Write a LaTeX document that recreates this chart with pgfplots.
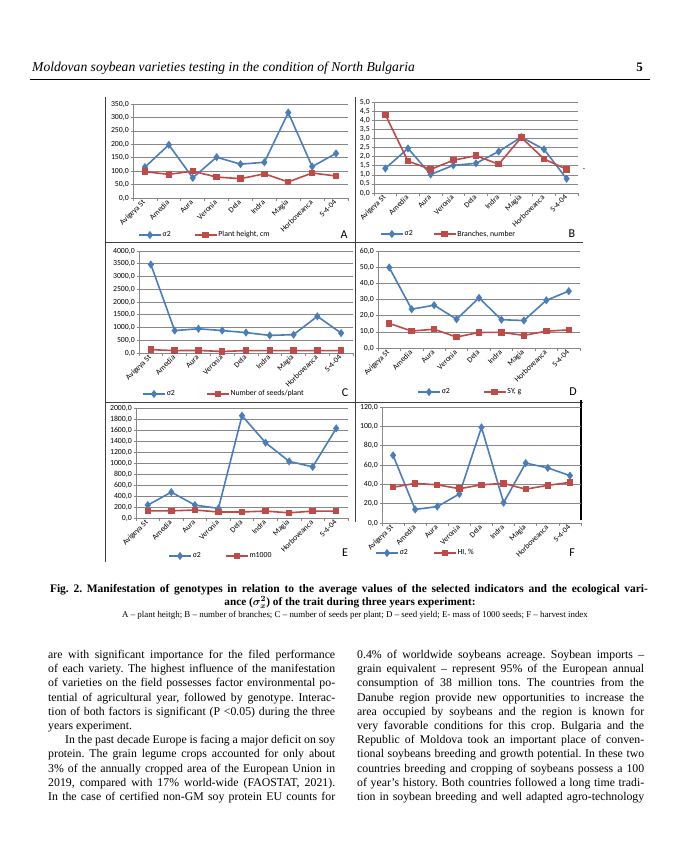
\documentclass[border=0pt]{standalone}
\usepackage{fontspec}
\setmainfont{Liberation Serif}
\newfontfamily\calib{Carlito}
\usepackage{pgfplots}
\pgfplotsset{compat=1.18}
\frenchspacing
\definecolor{xblue}{HTML}{4A7EBB}
\definecolor{xred}{HTML}{BE4B48}
\definecolor{xgrid}{HTML}{878787}
\newcommand\cf{\calib\fontsize{7.8}{8}\selectfont}
\newcommand\bodyf{\fontsize{11.8}{14}\selectfont}
\newcommand\jl[3]{\node[anchor=base west,inner sep=0pt,font=\bodyf] at (#1pt,-#2pt) {\makebox[287pt][s]{#3}};}
\newcommand\pl[3]{\node[anchor=base west,inner sep=0pt,font=\bodyf] at (#1pt,-#2pt) {#3};}
\pgfplotsset{
 panel/.style={
   scale only axis, anchor=south west,
   xmin=-0.5, xmax=8.5, ymin=0,
   axis lines*=left,
   axis line style={draw=xgrid, line width=0.6pt},
   xtick={0,...,8},
   xticklabels={Avigeya St,Amedia,Aura,Veronia,Dela,Indra,Magia,Horboveanca,S-4-04},
   every major x tick/.append style={draw=none},
   minor xtick={-0.5,0.5,...,8.5},
   tick align=outside,
   major tick length=2.5pt, minor tick length=2.5pt,
   tick style={draw=xgrid, line width=0.6pt},
   xticklabel style={rotate=45, anchor=east, inner sep=1pt, font=\cf},
   yticklabel style={font=\cf, inner sep=1.5pt, /pgf/number format/fixed, /pgf/number format/fixed zerofill, /pgf/number format/precision=1, /pgf/number format/use comma, /pgf/number format/1000 sep={}, /pgf/number format/assume math mode=true},
   scaled y ticks=false,
   ymajorgrids, grid style={draw=xgrid, line width=0.6pt},
   legend columns=2,
   legend image code/.code={\draw[mark repeat=2,mark phase=2,##1] plot coordinates {(0pt,0pt) (11pt,0pt) (22pt,0pt)};},
   legend style={draw=none, fill=none, font=\cf, anchor=west, inner sep=0pt, nodes={inner sep=1pt}},
 },
 lsep/.style={legend style={/tikz/every even column/.append style={column sep=#1pt}}},
 sig/.style={color=xblue, line width=1.6pt, mark=diamond*, mark size=2.8pt, mark options={solid, fill=xblue}},
 avg/.style={color=xred, line width=1.6pt, mark=square*, mark size=2.4pt, mark options={solid, fill=xred}},
}
\begin{document}
\begin{tikzpicture}
\useasboundingbox[fill=white] (0pt,0pt) rectangle (696pt,-864pt);
% header
\node[anchor=base west, inner sep=0pt, font=\itshape\fontsize{13.6}{15}\selectfont] at (32pt,-72pt) {Moldovan soybean varieties testing in the condition of North Bulgaria};
\node[anchor=base east, inner sep=0pt, font=\bfseries\fontsize{13}{15}\selectfont] at (643pt,-72pt) {5};
\draw[line width=0.9pt] (30pt,-79pt) -- (650pt,-79pt);
% frames
\draw[black!75, line width=1pt] (105.5pt,-97pt) -- (105.5pt,-562pt);
\draw[black!75, line width=1pt] (355pt,-97pt) -- (355pt,-522pt);
\draw[black!75, line width=1pt] (105pt,-242.5pt) -- (583pt,-242.5pt);
\draw[black!75, line width=1pt] (105pt,-402pt) -- (583pt,-402pt);
\draw[black, line width=1.5pt] (581pt,-400pt) -- (581pt,-520pt);

% A
\begin{axis}[panel, at={(133pt,-198pt)}, width=215pt, height=94pt, ymax=350, ytick={0,50,...,350}, lsep=22, legend style={at={(0.023,-0.394)}}]
\addplot[sig] coordinates {(0,115)(1,198)(2,75)(3,152)(4,126)(5,133)(6,318)(7,117)(8,166)};
\addlegendentry{σ2}
\addplot[avg] coordinates {(0,98)(1,88)(2,100)(3,78)(4,72)(5,90)(6,60)(7,93)(8,82)};
\addlegendentry{Plant height, cm}
\end{axis}
% B
\begin{axis}[panel, at={(374pt,-193pt)}, width=204pt, height=91pt, ymax=5, ytick={0,0.5,1,1.5,2,2.5,3,3.5,4,4.5,5}, lsep=19, legend style={at={(0.029,-0.451)}}]
\addplot[sig] coordinates {(0,1.35)(1,2.45)(2,1.02)(3,1.52)(4,1.63)(5,2.28)(6,3.07)(7,2.4)(8,0.78)};
\addlegendentry{σ2}
\addplot[avg] coordinates {(0,4.3)(1,1.75)(2,1.3)(3,1.8)(4,2.05)(5,1.58)(6,3.05)(7,1.87)(8,1.3)};
\addlegendentry{Branches, number}
\end{axis}
% C
\begin{axis}[panel, at={(139pt,-353pt)}, width=214pt, height=102pt, ymax=4000, ytick={0,500,...,4000}, lsep=30, legend style={at={(0.014,-0.402)}}]
\addplot[sig] coordinates {(0,3470)(1,880)(2,950)(3,880)(4,800)(5,690)(6,720)(7,1440)(8,780)};
\addlegendentry{σ2}
\addplot[avg] coordinates {(0,130)(1,95)(2,100)(3,60)(4,95)(5,95)(6,95)(7,95)(8,95)};
\addlegendentry{Number of seeds/plant}
\end{axis}
% D
\begin{axis}[panel, at={(378pt,-348pt)}, width=202pt, height=97pt, ymax=60, ytick={0,10,...,60}, lsep=32, legend style={at={(0.193,-0.454)}}]
\addplot[sig] coordinates {(0,49.8)(1,24)(2,26.5)(3,17.8)(4,31)(5,17.5)(6,17)(7,29.5)(8,35.2)};
\addlegendentry{σ2}
\addplot[avg] coordinates {(0,15.2)(1,10.5)(2,11.6)(3,6.8)(4,9.6)(5,9.7)(6,7.8)(7,10.4)(8,11.2)};
\addlegendentry{SY, g}
\end{axis}
% E
\begin{axis}[panel, at={(136pt,-518pt)}, width=212pt, height=110pt, ymax=2000, ytick={0,200,...,2000}, lsep=23, legend style={at={(0.151,-0.345)}}]
\addplot[sig] coordinates {(0,235)(1,470)(2,235)(3,175)(4,1860)(5,1370)(6,1030)(7,930)(8,1630)};
\addlegendentry{σ2}
\addplot[avg] coordinates {(0,130)(1,130)(2,145)(3,110)(4,110)(5,125)(6,95)(7,125)(8,125)};
\addlegendentry{m1000}
\end{axis}
% F
\begin{axis}[panel, at={(382pt,-523pt)}, width=199pt, height=116pt, ymax=120, ytick={0,20,...,120}, lsep=24, legend style={at={(-0.035,-0.259)}}]
\addplot[sig] coordinates {(0,70)(1,14)(2,17)(3,30)(4,99)(5,21)(6,62)(7,57)(8,49)};
\addlegendentry{σ2}
\addplot[avg] coordinates {(0,37)(1,41)(2,39.5)(3,35.5)(4,39.5)(5,41)(6,35)(7,39)(8,42)};
\addlegendentry{HI, \%}
\end{axis}
% panel letters
\node[font=\calib\fontsize{12}{12}\selectfont] at (344pt,-235pt) {A};
\node[font=\calib\fontsize{12}{12}\selectfont] at (572pt,-234pt) {B};
\node[font=\calib\fontsize{12}{12}\selectfont] at (345pt,-393pt) {C};
\node[font=\calib\fontsize{12}{12}\selectfont] at (573pt,-392pt) {D};
\node[font=\calib\fontsize{12}{12}\selectfont] at (345pt,-553pt) {E};
\node[font=\calib\fontsize{12}{12}\selectfont] at (572pt,-553pt) {F};
\node[font=\cf] at (584pt,-170pt) {-};
% caption
\node[anchor=base, inner sep=0pt, font=\bfseries\fontsize{11.5}{13}\selectfont] at (349pt,-592.5pt) {\makebox[598pt][s]{Fig. 2. Manifestation of genotypes in relation to the average values of the selected indicators and the ecological vari-}};
\node[anchor=base, inner sep=0pt, font=\bfseries\boldmath\fontsize{11.2}{13}\selectfont] at (350pt,-605.5pt) {ance ($\sigma^{2}_{x}$) of the trait during three years experiment:};
\node[anchor=base, inner sep=0pt, font=\fontsize{8.9}{10}\selectfont] at (355pt,-617.5pt) {A – plant heitgh; B – number of branches; C – number of seeds per plant; D – seed yield; E- mass of 1000 seeds; F – harvest index};
% left column
\jl{48}{658.5}{are with significant importance for the filed performance}
\jl{48}{672.7}{of each variety. The highest influence of the manifestation}
\jl{48}{686.9}{of varieties on the field possesses factor environmental po-}
\jl{48}{701.1}{tential of agricultural year, followed by genotype. Interac-}
\jl{48}{715.3}{tion of both factors is significant (P <0.05) during the three}
\pl{48}{729.5}{years experiment.}
\node[anchor=base west,inner sep=0pt,font=\bodyf] at (65pt,-743.7pt) {\makebox[270pt][s]{In the past decade Europe is facing a major deficit on soy}};
\jl{48}{757.9}{protein. The grain legume crops accounted for only about}
\jl{48}{772.1}{3\% of the annually cropped area of the European Union in}
\jl{48}{786.3}{2019, compared with 17\% world-wide (FAOSTAT, 2021).}
\jl{48}{800.5}{In the case of certified non-GM soy protein EU counts for}
% right column
\jl{357}{658.5}{0.4\% of worldwide soybeans acreage. Soybean imports –}
\jl{357}{672.7}{grain equivalent – represent 95\% of the European annual}
\jl{357}{686.9}{consumption of 38 million tons. The countries from the}
\jl{357}{701.1}{Danube region provide new opportunities to increase the}
\jl{357}{715.3}{area occupied by soybeans and the region is known for}
\jl{357}{729.5}{very favorable conditions for this crop. Bulgaria and the}
\jl{357}{743.7}{Republic of Moldova took an important place of conven-}
\jl{357}{757.9}{tional soybeans breeding and growth potential. In these two}
\jl{357}{772.1}{countries breeding and cropping of soybeans possess a 100}
\jl{357}{786.3}{of year’s history. Both countries followed a long time tradi-}
\jl{357}{800.5}{tion in soybean breeding and well adapted agro-technology}
\end{tikzpicture}
\end{document}
